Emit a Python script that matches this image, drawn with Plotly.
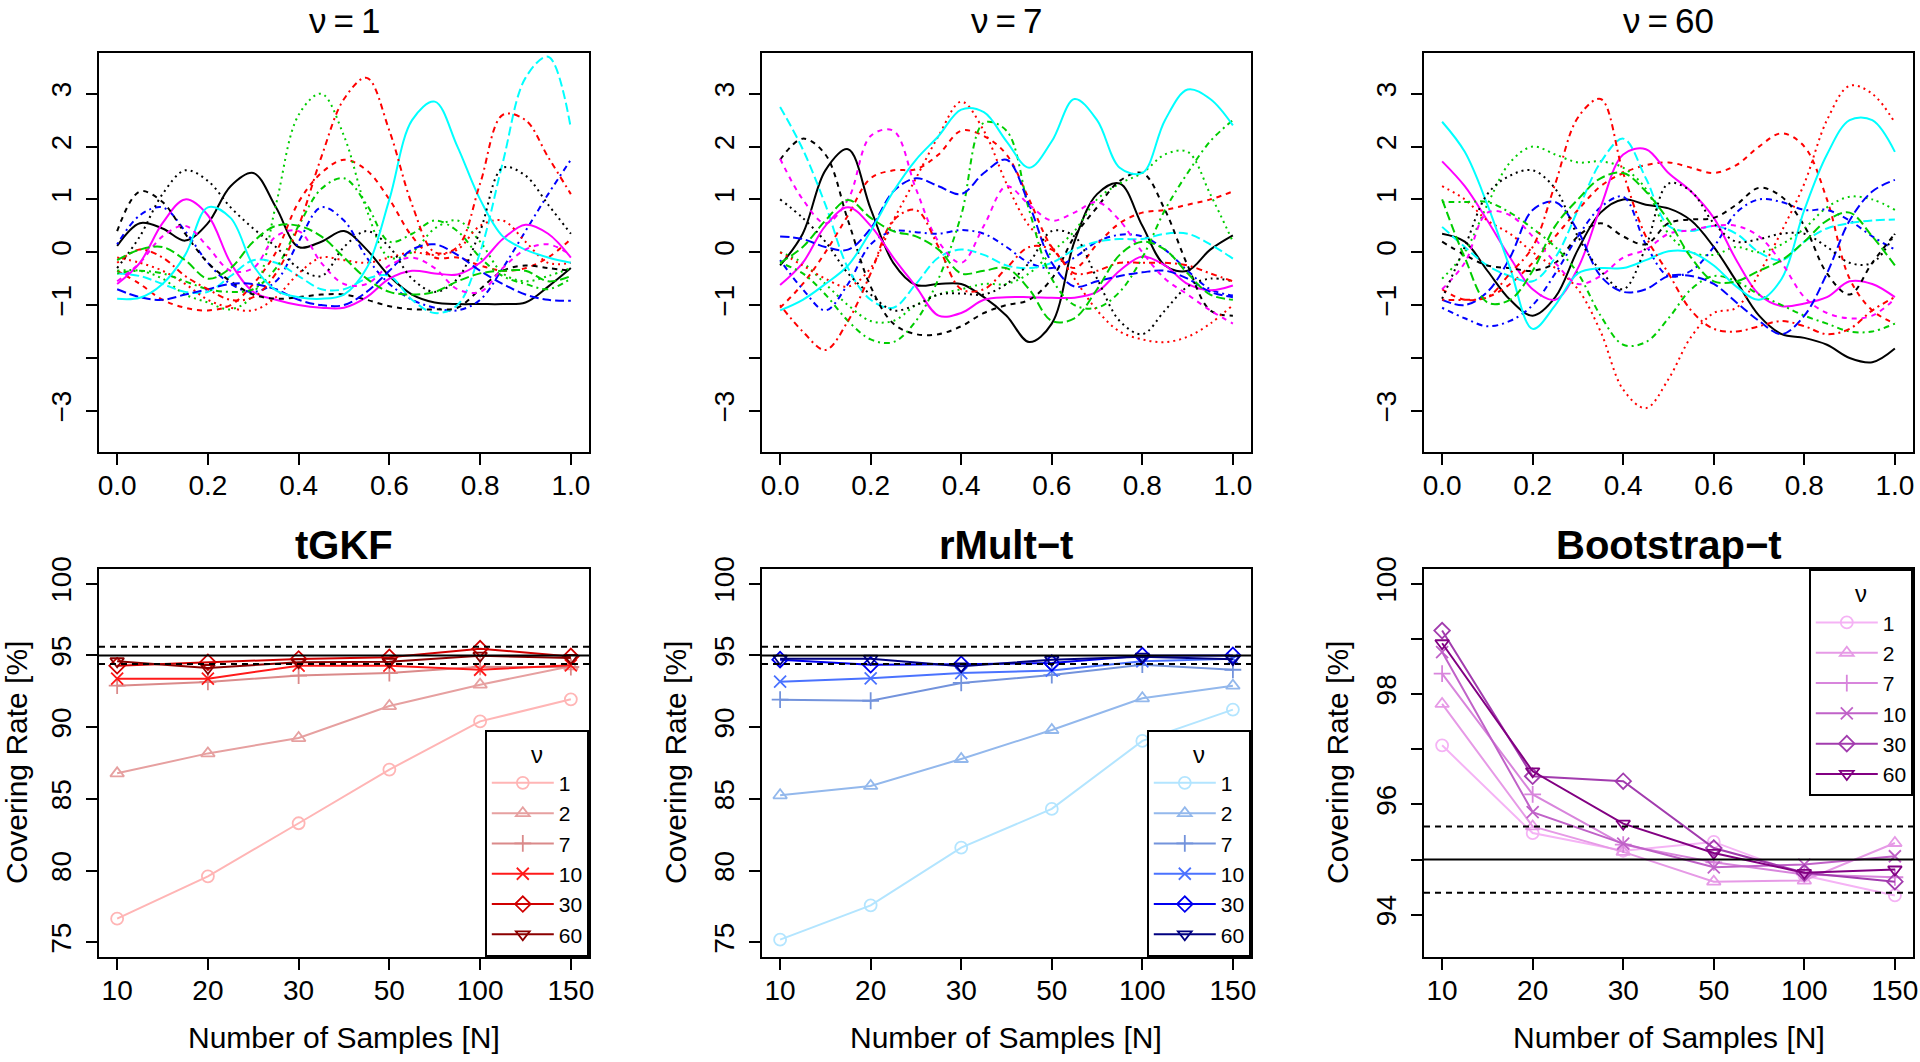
import plotly.graph_objects as go

W, H = 1920, 1062

# ---------------- top row: sample paths ----------------
t_grid = [0.0, 0.05, 0.1, 0.15, 0.2, 0.25, 0.3, 0.35, 0.4, 0.45, 0.5,
          0.55, 0.6, 0.65, 0.7, 0.75, 0.8, 0.85, 0.9, 0.95, 1.0]

# nu = 1
p1_01 = [0.12, 0.55, 0.45, 0.22, 0.55, 1.25, 1.5, 0.85, 0.1, 0.2, 0.4, 0.05, -0.45, -0.8, -0.95, -0.98, -0.98, -0.98, -0.95, -0.65, -0.3]
p1_02 = [-0.35, -0.6, -0.9, -1.05, -1.1, -1.0, -0.6, 0.0, 0.95, 1.5, 1.75, 1.55, 1.0, 0.3, -0.1, -0.1, -0.25, -0.35, -0.3, -0.1, 0.25]
p1_03 = [-0.35, -0.35, -0.5, -0.8, -0.95, -1.08, -0.8, 0.9, 2.6, 3.0, 2.2, 0.8, -0.1, 0.0, 0.45, 0.6, 0.2, -0.4, -0.55, -0.45, -0.3]
p1_04 = [0.15, 0.7, 0.85, 0.4, -0.2, -0.6, -0.75, -0.55, 0.2, 0.85, 0.6, -0.1, -0.6, -0.9, -1.05, -1.1, -0.9, -0.3, 0.4, 1.1, 1.75]
p1_05 = [-0.4, -0.45, -0.6, -0.75, -0.75, -0.45, -0.15, -0.2, -0.45, -0.7, -0.7, -0.5, -0.45, -0.9, -1.15, -1.0, 0.0, 1.7, 3.3, 3.7, 2.35]
p1_06 = [-0.6, -0.2, 0.55, 1.0, 0.7, -0.2, -0.75, -0.9, -1.0, -1.05, -1.05, -0.85, -0.5, -0.35, -0.4, -0.42, -0.2, 0.25, 0.52, 0.35, -0.1]
p1_07 = [0.4, 1.15, 0.95, 0.35, -0.2, -0.55, -0.8, -0.88, -0.85, -0.8, -0.8, -0.9, -1.02, -1.08, -1.08, -1.05, -0.7, -0.35, -0.25, -0.3, -0.35]
p1_08 = [-0.1, -0.2, -0.35, -0.6, -0.9, -1.05, -1.1, -0.85, -0.4, -0.1, -0.15, -0.2, -0.1, 0.0, -0.05, 0.05, 0.5, 0.6, 0.2, -0.2, -0.2]
p1_09 = [-0.4, -0.35, -0.4, -0.55, -0.7, -0.75, -0.7, -0.3, 0.5, 1.2, 1.4, 0.9, 0.2, 0.35, 0.6, 0.4, -0.1, -0.45, -0.6, -0.7, -0.5]
p1_10 = [-0.7, -0.85, -0.9, -0.8, -0.7, -0.6, -0.6, -0.7, -0.9, -1.0, -1.0, -0.75, -0.35, 0.05, 0.15, -0.05, -0.35, -0.6, -0.8, -0.9, -0.92]
p1_11 = [-0.88, -0.86, -0.6, -0.05, 0.85, 0.65, -0.25, -0.72, -0.85, -0.88, -0.8, -0.3, 1.0, 2.5, 2.85, 2.0, 1.0, 0.3, 0.05, -0.1, -0.2]
p1_12 = [-0.55, -0.2, 0.3, 0.5, 0.1, -0.35, -0.3, 0.3, 0.4, -0.2, -0.6, -0.6, -0.25, -0.1, -0.3, -0.7, -0.75, -0.3, 0.05, 0.15, -0.05]
p1_13 = [-0.3, 0.3, 1.1, 1.55, 1.35, 0.85, 0.45, 0.1, -0.3, -0.45, 0.1, 0.4, 0.1, -0.5, -0.75, -0.5, 0.4, 1.6, 1.45, 0.9, 0.35]
p1_14 = [-0.2, 0.05, -0.1, -0.45, -0.7, -0.9, -0.85, -0.4, 0.5, 1.8, 2.9, 3.3, 2.3, 0.9, 0.0, 0.1, 1.3, 2.6, 2.5, 1.8, 1.1]
p1_15 = [-0.15, 0.05, 0.1, -0.15, -0.5, -0.3, 0.2, 0.5, 0.5, 0.3, -0.1, -0.5, -0.75, -0.8, -0.75, -0.55, -0.4, -0.35, -0.35, -0.55, -0.45]

# nu = 7
p2_01 = [-0.25, 0.35, 1.55, 1.95, 0.82, -0.2, -0.62, -0.6, -0.6, -0.85, -1.2, -1.7, -1.35, 0.2, 1.1, 1.3, 0.5, -0.25, -0.35, 0.05, 0.32]
p2_02 = [-1.05, -0.6, 0.0, 0.7, 1.4, 1.55, 1.57, 1.85, 2.3, 2.2, 1.85, 1.0, 0.1, -0.3, 0.15, 0.55, 0.75, 0.8, 0.9, 1.0, 1.15]
p2_03 = [0.0, -0.2, -0.6, -1.0, -1.3, -1.3, -1.0, -0.8, -0.7, -0.6, -0.6, -0.4, 0.0, 0.4, 1.0, 1.3, 1.5, 1.85, 1.9, 1.1, 0.2]
p2_04 = [-0.15, -0.7, -1.1, -0.6, 0.15, 0.4, 0.38, 0.35, 0.42, 0.35, 0.1, -0.2, -0.3, -0.1, 0.2, 0.33, 0.3, 0.05, -0.35, -0.7, -0.82]
p2_05 = [2.75, 1.95, 0.9, -0.3, -0.9, -1.05, -0.6, -0.1, 0.05, -0.05, -0.25, -0.3, -0.2, 0.05, 0.2, 0.25, 0.25, 0.35, 0.35, 0.15, -0.12]
p2_06 = [-0.62, -0.2, 0.5, 0.85, 0.5, -0.1, -0.65, -1.2, -1.15, -0.9, -0.85, -0.85, -0.86, -0.86, -0.75, -0.35, -0.08, -0.25, -0.6, -0.72, -0.63]
p2_07 = [1.75, 2.15, 1.85, 0.6, -0.65, -1.35, -1.55, -1.55, -1.4, -1.15, -1.0, -0.9, -0.5, 0.3, 0.85, 1.35, 1.5, 0.8, -0.25, -1.1, -1.2]
p2_08 = [0.0, -0.25, -0.5, -0.65, -0.3, 0.6, 1.4, 2.2, 2.85, 2.3, 1.3, 0.5, 0.1, -0.5, -1.1, -1.5, -1.65, -1.7, -1.6, -1.35, -1.0]
p2_09 = [-0.2, -0.4, -0.8, -1.3, -1.65, -1.7, -1.3, -0.5, 0.7, 2.45, 2.3, 0.8, -0.5, -1.0, -1.05, -0.75, -0.1, 0.8, 1.5, 2.1, 2.5]
p2_10 = [0.3, 0.25, 0.1, 0.05, 0.45, 1.15, 1.4, 1.25, 1.1, 1.5, 1.75, 0.9, -0.2, -0.65, -0.55, -0.45, -0.38, -0.35, -0.5, -0.75, -0.85]
p2_11 = [-1.1, -0.9, -0.6, -0.25, 0.4, 1.15, 1.75, 2.2, 2.7, 2.65, 2.1, 1.6, 2.1, 2.9, 2.5, 1.6, 1.5, 2.5, 3.08, 2.9, 2.4]
p2_12 = [1.77, 1.0, 0.55, 1.0, 2.2, 2.3, 1.2, 0.2, -0.2, 0.5, 1.25, 0.9, 0.6, 0.75, 0.95, 0.6, 0.0, -0.5, -0.8, -1.1, -1.35]
p2_13 = [1.0, 0.65, 0.2, -0.4, -0.8, -1.1, -1.0, -0.8, -0.78, -0.8, -0.6, -0.2, 0.4, 0.3, -0.5, -1.3, -1.55, -1.1, -0.65, -0.5, -0.55]
p2_14 = [-1.0, -1.5, -1.85, -1.3, -0.4, 0.6, 0.8, 0.1, -0.7, -0.7, -0.3, 0.1, 0.05, -0.4, -0.35, -0.2, -0.2, -0.2, -0.25, -0.4, -0.55]
p2_15 = [-0.2, 0.1, 0.6, 0.99, 0.65, 0.4, 0.3, 0.05, -0.4, -0.35, -0.3, -0.7, -1.3, -1.25, -0.7, -0.05, 0.2, 0.05, -0.4, -0.8, -0.9]

# nu = 60
p3_01 = [0.35, 0.2, -0.35, -0.9, -1.2, -0.85, 0.05, 0.75, 1.0, 0.9, 0.83, 0.6, 0.1, -0.55, -1.2, -1.55, -1.62, -1.75, -2.0, -2.08, -1.82]
p3_02 = [-0.7, -0.9, -0.85, -0.6, -0.2, 0.3, 0.8, 1.25, 1.5, 1.65, 1.7, 1.6, 1.5, 1.65, 2.0, 2.25, 2.0, 1.0, -0.5, -1.1, -1.35]
p3_03 = [-0.5, 0.0, 0.9, 1.7, 2.0, 1.85, 1.7, 1.72, 1.6, 1.2, 0.35, 0.0, -0.05, 0.1, 0.0, 0.15, 0.45, 0.85, 1.05, 1.0, 0.8]
p3_04 = [-1.05, -1.25, -1.4, -1.3, -1.0, -0.4, 0.3, 0.85, 1.05, 0.15, -0.45, -0.35, 0.1, 0.75, 1.0, 0.95, 0.8, 0.8, 0.6, 0.3, 0.05]
p3_05 = [0.48, 0.1, -0.25, -0.45, -0.55, -0.1, 0.8, 1.7, 2.15, 1.4, 0.5, 0.4, 0.5, 0.35, 0.0, -0.15, 0.2, 0.45, 0.55, 0.6, 0.62]
p3_06 = [1.72, 1.25, 0.6, -0.1, -0.7, -0.9, -0.3, 0.85, 1.85, 1.95, 1.5, 1.15, 0.65, -0.15, -0.8, -1.02, -0.97, -0.85, -0.55, -0.6, -0.85]
p3_07 = [0.2, -0.05, -0.25, -0.3, -0.35, -0.2, 0.3, 0.55, 0.3, 0.15, 0.55, 0.62, 0.65, 0.9, 1.22, 1.05, 0.5, -0.4, -0.8, -0.2, 0.35]
p3_08 = [1.25, 1.0, 0.6, 0.35, 0.0, -0.3, -0.7, -1.5, -2.6, -2.95, -2.4, -1.6, -1.15, -1.05, -0.4, 0.4, 1.3, 2.5, 3.15, 3.0, 2.45]
p3_09 = [0.95, 0.95, 0.95, 0.75, 0.45, 0.1, -0.4, -1.2, -1.75, -1.7, -1.25, -0.7, -0.45, -0.55, -0.8, -1.0, -1.2, -1.35, -1.5, -1.5, -1.35]
p3_10 = [-0.9, -1.0, -0.75, -0.1, 0.8, 0.95, 0.4, -0.45, -0.75, -0.7, -0.45, -0.45, -0.6, -0.95, -1.3, -1.55, -1.2, -0.4, 0.6, 1.15, 1.37]
p3_11 = [2.47, 1.9, 0.9, -0.3, -1.45, -1.0, -0.4, -0.3, -0.3, -0.15, 0.02, 0.0, -0.25, -0.65, -0.9, -0.5, 0.8, 1.85, 2.5, 2.5, 1.9]
p3_12 = [-0.7, -0.2, 0.75, 0.7, 0.3, -0.2, -0.6, -0.45, -0.1, 0.05, 0.35, 0.42, 0.5, 0.5, 0.3, -0.2, -0.85, -1.15, -1.25, -1.2, -0.88]
p3_13 = [-0.88, 0.1, 1.1, 1.45, 1.55, 1.2, 0.3, -0.35, -0.7, 0.1, 1.3, 1.15, 0.55, 0.2, 0.25, 0.35, 0.35, 0.1, -0.2, -0.2, 0.35]
p3_14 = [-0.9, -0.9, -0.85, -0.4, 0.1, 1.3, 2.55, 2.9, 1.5, 0.3, -0.4, -1.1, -1.45, -1.5, -1.4, -1.3, -1.4, -1.55, -1.45, -1.1, -0.85]
p3_15 = [1.0, -0.1, -0.95, -0.9, -0.35, 0.5, 1.0, 1.4, 1.5, 1.15, 0.6, -0.1, -0.55, -0.55, -0.35, -0.15, 0.2, 0.6, 0.75, 0.3, -0.25]

panel1 = [p1_01, p1_02, p1_03, p1_04, p1_05, p1_06, p1_07, p1_08, p1_09, p1_10, p1_11, p1_12, p1_13, p1_14, p1_15]
panel2 = [p2_01, p2_02, p2_03, p2_04, p2_05, p2_06, p2_07, p2_08, p2_09, p2_10, p2_11, p2_12, p2_13, p2_14, p2_15]
panel3 = [p3_01, p3_02, p3_03, p3_04, p3_05, p3_06, p3_07, p3_08, p3_09, p3_10, p3_11, p3_12, p3_13, p3_14, p3_15]
top_titles = ["\u03bd\u2009=\u20091", "\u03bd\u2009=\u20097", "\u03bd\u2009=\u200960"]
top_xticks = [0.0, 0.2, 0.4, 0.6, 0.8, 1.0]
top_xlabels = ["0.0", "0.2", "0.4", "0.6", "0.8", "1.0"]
top_yticks = [-3, -2, -1, 0, 1, 2, 3]
top_ylabels = ["\u22123", "", "\u22121", "0", "1", "2", "3"]

# R matplot defaults: col = 1:6, lty = 1:5
r_cols = ["#000000", "#FF0000", "#00CD00", "#0000FF", "#00FFFF", "#FF00FF"]
r_dash = ["solid", "5px,5px", "2px,4px", "2px,4px,6px,4px", "9px,4px"]

# ---------------- bottom row: covering rates ----------------
N_labels = ["10", "20", "30", "50", "100", "150"]
nu_labels = ["1", "2", "7", "10", "30", "60"]

tgkf_nu1 = [76.65, 79.60, 83.30, 87.04, 90.40, 91.94]
tgkf_nu2 = [86.78, 88.17, 89.24, 91.47, 92.96, 94.24]
tgkf_nu7 = [92.89, 93.15, 93.59, 93.77, 94.20, 94.19]
tgkf_nu10 = [93.38, 93.38, 94.28, 94.28, 94.00, 94.31]
tgkf_nu30 = [94.28, 94.52, 94.75, 94.87, 95.47, 94.93]
tgkf_nu60 = [94.59, 94.12, 94.52, 94.55, 94.98, 94.82]

rmult_nu1 = [75.19, 77.58, 81.60, 84.30, 89.04, 91.22]
rmult_nu2 = [85.25, 85.90, 87.78, 89.80, 92.01, 92.89]
rmult_nu7 = [91.91, 91.84, 93.08, 93.63, 94.35, 94.00]
rmult_nu10 = [93.17, 93.40, 93.77, 93.94, 94.59, 94.77]
rmult_nu30 = [94.70, 94.35, 94.38, 94.47, 94.98, 95.00]
rmult_nu60 = [94.77, 94.77, 94.24, 94.70, 94.91, 94.73]

boot_nu1 = [97.07, 95.48, 95.16, 95.32, 94.71, 94.35]
boot_nu2 = [97.82, 95.60, 95.14, 94.60, 94.62, 95.30]
boot_nu7 = [98.37, 96.18, 95.27, 94.95, 94.73, 94.68]
boot_nu10 = [98.76, 95.86, 95.29, 94.86, 94.91, 95.06]
boot_nu30 = [99.15, 96.51, 96.42, 95.21, 94.76, 94.60]
boot_nu60 = [98.92, 96.60, 95.65, 95.12, 94.76, 94.82]

tgkf_colors = ["#FFB5B5", "#E6A0A0", "#DA8A8A", "#FF1A1A", "#D00000", "#8B0000"]
rmult_colors = ["#B3E5FF", "#93B8EC", "#7393DC", "#4A72FF", "#0000F0", "#000080"]
boot_colors = ["#F5B3F5", "#E69AE6", "#D885DC", "#C062C8", "#A23CAE", "#820082"]
symbols = ["circle-open", "triangle-up-open", "cross-thin-open", "x-thin-open",
           "diamond-open", "triangle-down-open"]

ref_level = 95.0
ref_band = [94.4, 95.6]

bottom_titles = ["tGKF", "rMult\u2212t", "Bootstrap\u2212t"]

# ---------------- geometry (pixels) ----------------
col_px = [(99, 589), (762, 1251), (1424, 1913)]
top_px = (52.5, 452)
bot_px = (569.3, 956.7)

FONT = "Liberation Sans, Arial, Helvetica, sans-serif"

def xdom(c):
    return [col_px[c][0] / W, col_px[c][1] / W]

def ydom(r):
    return [1 - r[1] / H, 1 - r[0] / H]

fig = go.Figure()

axis_common = dict(showline=True, mirror=True, linecolor="black", linewidth=1.8,
                   ticks="outside", ticklen=11, tickwidth=1.8, tickcolor="black",
                   showgrid=False, zeroline=False, automargin=False,
                   tickfont=dict(family=FONT, size=28, color="black"))

layout = dict(width=W, height=H, margin=dict(l=0, r=0, t=0, b=0, pad=0, autoexpand=False),
              paper_bgcolor="white", plot_bgcolor="white",
              font=dict(family=FONT, color="black"), showlegend=True)

panels = [panel1, panel2, panel3]
for c in range(3):
    ax = c + 1
    for i, ys in enumerate(panels[c]):
        fig.add_trace(go.Scatter(
            x=t_grid, y=ys, mode="lines", showlegend=False,
            line=dict(color=r_cols[i % 6], dash=r_dash[i % 5], width=2,
                      shape="spline", smoothing=1.0),
            xaxis="x%d" % ax, yaxis="y%d" % ax, hoverinfo="skip"))
    layout["xaxis%d" % ax] = dict(axis_common, domain=xdom(c), range=[-0.04, 1.04],
                                  tickvals=top_xticks, ticktext=top_xlabels,
                                  anchor="y%d" % ax, ticklabelstandoff=-4)
    layout["yaxis%d" % ax] = dict(axis_common, domain=ydom(top_px), range=[-3.78, 3.78],
                                  tickvals=top_yticks, ticktext=top_ylabels,
                                  tickangle=-90, anchor="x%d" % ax, ticklabelstandoff=4)

methods = [
    ([tgkf_nu1, tgkf_nu2, tgkf_nu7, tgkf_nu10, tgkf_nu30, tgkf_nu60], tgkf_colors,
     [74.0, 101.0], [75, 80, 85, 90, 95, 100], ["75", "80", "85", "90", "95", "100"]),
    ([rmult_nu1, rmult_nu2, rmult_nu7, rmult_nu10, rmult_nu30, rmult_nu60], rmult_colors,
     [74.0, 101.0], [75, 80, 85, 90, 95, 100], ["75", "80", "85", "90", "95", "100"]),
    ([boot_nu1, boot_nu2, boot_nu7, boot_nu10, boot_nu30, boot_nu60], boot_colors,
     [93.24, 100.26], [94, 95, 96, 97, 98, 99, 100], ["94", "", "96", "", "98", "", "100"]),
]
legend_names = ["legend", "legend2", "legend3"]
xpos = list(range(1, len(N_labels) + 1))

shapes = []
annotations = []
for c in range(3):
    ax = c + 4
    series, cols, yr, yt, ytl = methods[c]
    for i, ys in enumerate(series):
        fig.add_trace(go.Scatter(
            x=xpos, y=ys, mode="lines+markers", name=nu_labels[i],
            legend=legend_names[c],
            line=dict(color=cols[i], width=2),
            marker=dict(symbol=symbols[i], size=12, color=cols[i],
                        line=dict(color=cols[i], width=1.8)),
            xaxis="x%d" % ax, yaxis="y%d" % ax))
    layout["xaxis%d" % ax] = dict(axis_common, domain=xdom(c), range=[0.8, 6.2],
                                  tickvals=xpos, ticktext=N_labels,
                                  anchor="y%d" % ax, ticklabelstandoff=-3)
    layout["yaxis%d" % ax] = dict(axis_common, domain=ydom(bot_px), range=yr,
                                  tickvals=yt, ticktext=ytl, tickangle=-90,
                                  anchor="x%d" % ax, ticklabelstandoff=4)
    xr = "x%d domain" % ax
    yref = "y%d" % ax
    shapes.append(dict(type="line", xref=xr, yref=yref, x0=0, x1=1,
                       y0=ref_level, y1=ref_level, line=dict(color="black", width=2)))
    for b in ref_band:
        shapes.append(dict(type="line", xref=xr, yref=yref, x0=0, x1=1,
                           y0=b, y1=b, line=dict(color="black", width=2, dash="6px,5px")))

# legends
leg_common = dict(bgcolor="white", bordercolor="black", borderwidth=1.8,
                  font=dict(family=FONT, size=21, color="black"),
                  title=dict(text="\u03bd", side="top center",
                             font=dict(family=FONT, size=24, color="black")),
                  itemwidth=62, tracegroupgap=0, itemclick=False)
layout["legend"] = dict(leg_common, x=col_px[0][1] / W, y=1 - bot_px[1] / H,
                        xanchor="right", yanchor="bottom")
layout["legend2"] = dict(leg_common, x=col_px[1][1] / W, y=1 - bot_px[1] / H,
                         xanchor="right", yanchor="bottom")
layout["legend3"] = dict(leg_common, x=col_px[2][1] / W, y=1 - bot_px[0] / H,
                         xanchor="right", yanchor="top")

# titles and axis titles
for c in range(3):
    cx = (col_px[c][0] + col_px[c][1]) / 2 / W
    annotations.append(dict(text=top_titles[c], x=cx, y=1 - 21 / H, xref="paper", yref="paper",
                            showarrow=False, xanchor="center", yanchor="middle",
                            font=dict(family=FONT, size=35, color="black")))
    annotations.append(dict(text="<b>%s</b>" % bottom_titles[c], x=cx, y=1 - 545 / H,
                            xref="paper", yref="paper", showarrow=False,
                            xanchor="center", yanchor="middle",
                            font=dict(family=FONT, size=40, color="black")))
    annotations.append(dict(text="Number of Samples [N]", x=cx, y=1 - 1037 / H,
                            xref="paper", yref="paper", showarrow=False,
                            xanchor="center", yanchor="middle",
                            font=dict(family=FONT, size=30, color="black")))
ylab_x = [16, 675, 1337]
for c in range(3):
    annotations.append(dict(text="Covering Rate [%]", x=ylab_x[c] / W, y=1 - 763 / H,
                            xref="paper", yref="paper", showarrow=False, textangle=-90,
                            xanchor="center", yanchor="middle",
                            font=dict(family=FONT, size=30, color="black")))

layout["shapes"] = shapes
layout["annotations"] = annotations
fig.update_layout(**layout)
fig.write_html("out.html", config={"displayModeBar": False},
               post_script="document.body.style.margin='0px';document.body.style.padding='0px';")
